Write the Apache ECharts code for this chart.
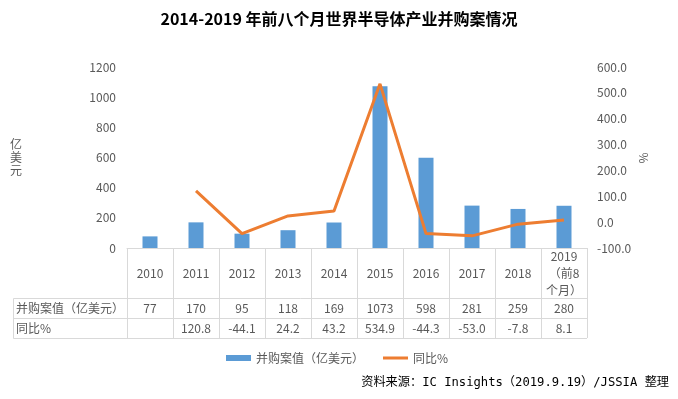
<!DOCTYPE html>
<html>
<head>
<meta charset="utf-8">
<script src="https://cdn.jsdelivr.net/npm/echarts@6/dist/echarts.min.js"></script>
<style>
  html, body { margin: 0; padding: 0; background: #fff; }
  #main { width: 678px; height: 399px; }
</style>
</head>
<body>
<div id="main"></div>
<script>
// 年份（表头）
const years = ['2010', '2011', '2012', '2013', '2014', '2015', '2016', '2017', '2018', '2019\n（前8\n个月）']
// 并购案值（亿美元）
const dealValues = [77, 170, 95, 118, 169, 1073, 598, 281, 259, 280]
// 同比%
const growth = [null, 120.8, -44.1, 24.2, 43.2, 534.9, -44.3, -53.0, -7.8, 8.1]

const rowNames = ['并购案值（亿美元）', '同比%']

const numFont = "'Liberation Sans Narrow', 'Noto Sans CJK SC', sans-serif"
const cjkFont = "'Noto Sans CJK SC', sans-serif"
const gridColor = '#d9d9d9'
const labelColor = '#595959'

// 图表区域
const G = {left: 127, right: 587, top: 67, bottom: 248}
const rowLines = [298.5, 318.5, 338.5]
const tableLeft = 13.5

const chart = echarts.init(document.getElementById('main'))

// 表格下方两行: 用额外的x轴显示数值
function tableAxis(values, margin, fmt) {
  return {
    type: 'category',
    position: 'bottom',
    data: values.map(fmt),
    axisLine: {show: false},
    axisTick: {show: false},
    axisLabel: {
      interval: 0,
      margin: margin,
      verticalAlign: 'middle',
      fontFamily: numFont,
      fontSize: 12,
      color: labelColor,
    },
  }
}

const graphics = []
rowLines.forEach(y => {
  graphics.push({
    type: 'line',
    shape: {x1: tableLeft, y1: y, x2: G.right, y2: y},
    style: {stroke: gridColor, lineWidth: 1},
  })
})
graphics.push({
  type: 'line',
  shape: {x1: tableLeft, y1: rowLines[0], x2: tableLeft, y2: rowLines[2]},
  style: {stroke: gridColor, lineWidth: 1},
})
rowNames.forEach((name, i) => {
  graphics.push({
    type: 'text',
    x: 16,
    y: (rowLines[i] + rowLines[i + 1]) / 2,
    style: {text: name, fontFamily: cjkFont, fontSize: 12, fill: labelColor, verticalAlign: 'middle'},
  })
})
// 轴标题
graphics.push({
  type: 'text',
  x: 16,
  y: 157,
  style: {text: '亿\n美\n元', fontFamily: cjkFont, fontSize: 12, lineHeight: 13, fill: labelColor, align: 'center', verticalAlign: 'middle'},
})
graphics.push({
  type: 'text',
  x: 643,
  y: 158,
  rotation: Math.PI / 2,
  style: {text: '%', fontFamily: numFont, fontSize: 12, fill: labelColor, align: 'center', verticalAlign: 'middle'},
})
// 资料来源
graphics.push({
  type: 'text',
  right: 9,
  top: 377,
  style: {text: '资料来源：IC Insights（2019.9.19）/JSSIA 整理', fontFamily: "'DejaVu Sans Mono', 'Noto Sans CJK SC', monospace", fontSize: 12.2, fill: '#000'},
})

const option = {
  backgroundColor: '#ffffff',
  animation: false,
  title: {
    text: '2014-2019 年前八个月世界半导体产业并购案情况',
    left: 'center',
    top: 6,
    textStyle: {fontFamily: cjkFont, fontSize: 16, fontWeight: 'bold', color: '#000'},
  },
  grid: {
    left: G.left,
    right: 678 - G.right,
    top: G.top,
    bottom: 399 - G.bottom,
  },
  legend: {
    left: 221,
    top: 347,
    itemWidth: 25,
    itemHeight: 6,
    itemGap: 19,
    textStyle: {fontFamily: cjkFont, fontSize: 12, color: labelColor},
    data: [
      {name: '并购案值（亿美元）', icon: 'rect'},
      // 线形图例: 只画一条粗线, 不带圆点
      {name: '同比%', icon: 'path://M0,0H25V0.01H0Z M0,1.5H25V4.5H0Z M0,5.99H25V6H0Z'},
    ],
  },
  xAxis: [
    {
      type: 'category',
      position: 'bottom',
      data: years,
      axisLine: {show: true, lineStyle: {color: gridColor}},
      axisTick: {show: true, length: 90, lineStyle: {color: gridColor}},
      axisLabel: {
        interval: 0,
        margin: 25,
        verticalAlign: 'middle',
        lineHeight: 17,
        fontFamily: numFont,
        fontSize: 12,
        color: labelColor,
      },
    },
    tableAxis(dealValues, 60, v => String(v)),
    tableAxis(growth, 80, v => (v === null ? '' : v.toFixed(1))),
  ],
  yAxis: [
    {
      type: 'value',
      min: 0,
      max: 1200,
      interval: 200,
      axisLine: {show: false},
      axisTick: {show: false},
      splitLine: {show: false},
      axisLabel: {margin: 11, fontFamily: numFont, fontSize: 12, color: labelColor, formatter: v => String(v)},
    },
    {
      type: 'value',
      min: -100,
      max: 600,
      interval: 100,
      axisLine: {show: false},
      axisTick: {show: false},
      splitLine: {show: false},
      axisLabel: {
        margin: 10,
        fontFamily: numFont,
        fontSize: 12,
        color: labelColor,
        formatter: v => v.toFixed(1),
      },
    },
  ],
  series: [
    {
      name: '并购案值（亿美元）',
      type: 'bar',
      xAxisIndex: 0,
      yAxisIndex: 0,
      barWidth: 15,
      itemStyle: {color: '#5b9bd5'},
      data: dealValues,
    },
    {
      name: '同比%',
      type: 'line',
      xAxisIndex: 0,
      yAxisIndex: 1,
      symbol: 'none',
      lineStyle: {color: '#ed7d31', width: 3},
      itemStyle: {color: '#ed7d31'},
      data: growth,
    },
  ],
  graphic: graphics,
}

chart.setOption(option)
</script>
</body>
</html>
